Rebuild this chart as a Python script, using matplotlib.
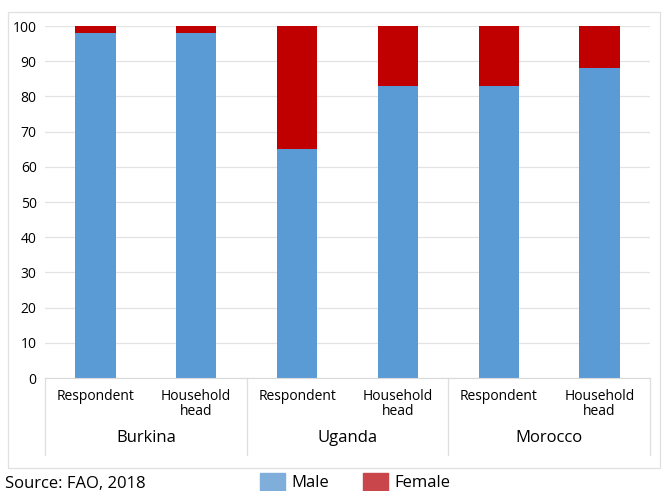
import numpy as np
import matplotlib.pyplot as plt
from matplotlib.patches import Patch, Rectangle
from matplotlib.transforms import blended_transform_factory

plt.rcParams['font.family'] = ['Open Sans', 'DejaVu Sans']

# data
groups = ['Burkina', 'Uganda', 'Morocco']
sub_labels = ['Respondent', 'Household\nhead'] * 3
male = [98, 98, 65, 83, 83, 88]
female = [2, 2, 35, 17, 17, 12]

blue = '#5B9BD5'
red = '#C00000'

fig = plt.figure(figsize=(6.62, 4.91), dpi=100)
ax = fig.add_axes([45 / 662, 1 - 378 / 491, 605 / 662, 352 / 491])

x = np.arange(len(male))
ax.bar(x, male, width=0.4, color=blue, zorder=2)
ax.bar(x, female, bottom=male, width=0.4, color=red, zorder=2)

ax.set_xlim(-0.5, 5.5)
ax.set_ylim(0, 100)
ax.set_yticks(range(0, 101, 10))
ax.tick_params(axis='y', length=0, labelsize=10, pad=6)
ax.set_xticks([])
ax.grid(axis='y', color='#e3e3e3', linewidth=0.9, zorder=0)
for s in ['top', 'right', 'left']:
    ax.spines[s].set_visible(False)
ax.spines['bottom'].set_color('#d9d9d9')

# two-level category axis
tr = blended_transform_factory(ax.transData, ax.transAxes)
for i, lab in enumerate(sub_labels):
    ax.text(i, -0.03, lab, transform=tr, ha='center', va='top',
            fontsize=10, linespacing=1.0)
for g, name in enumerate(groups):
    ax.text(2 * g + 0.5, -0.17, name, transform=tr, ha='center', va='center',
            fontsize=12)
for xs in [-0.5, 1.5, 3.5, 5.5]:
    ax.plot([xs, xs], [0, -0.22], transform=tr, color='#dedede',
            linewidth=0.9, clip_on=False)

# outer frame
fig.patches.append(Rectangle((8 / 662, 1 - 468 / 491), 652 / 662, 456 / 491,
                             transform=fig.transFigure, fill=False,
                             edgecolor='#e0e0e0', linewidth=0.9))

handles = [Patch(color='#7FAEDB', label='Male'), Patch(color='#C9474A', label='Female')]
fig.legend(handles=handles, loc='center', ncol=2, frameon=False, fontsize=12,
           bbox_to_anchor=(355 / 662, 1 - 482 / 491), handlelength=1.5,
           handleheight=1.3, columnspacing=2.0, handletextpad=0.4)

fig.text(5 / 662, 1 - 484 / 491, 'Source: FAO, 2018', fontsize=12, va='center')

fig.savefig('out.png', dpi=100)
